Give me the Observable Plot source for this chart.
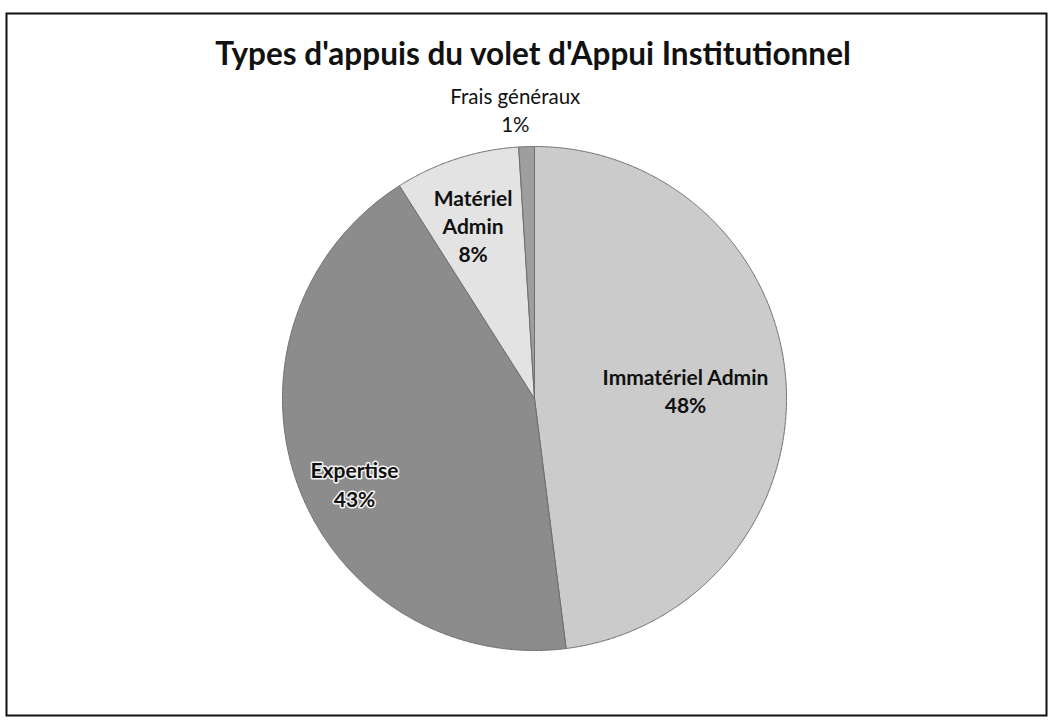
<!DOCTYPE html>
<html><head><meta charset="utf-8">
<script src="https://cdn.jsdelivr.net/npm/d3@7"></script>
<script src="https://cdn.jsdelivr.net/npm/@observablehq/plot@0.6"></script>
<style>body{margin:0;background:#fff}</style>
</head><body><div id="chart"></div>
<script>
const categories = ["Immatériel Admin", "Expertise", "Matériel Admin", "Frais généraux"];
const labelNames = ["Immatériel Admin", "Expertise", "Matériel\nAdmin", "Frais généraux"];
const values = [48, 43, 8, 1];
const colors = ["#cbcbcb", "#8c8c8c", "#e3e3e3", "#9e9e9e"];
const title = "Types d'appuis du volet d'Appui Institutionnel";

// layout: label distance from centre (fraction of radius) and angular shift (degrees)
const labelLayout = {
  "Immatériel Admin": {r: 0.60, shift: 0.5},
  "Expertise": {r: 0.79, shift: -5.5},
  "Matériel Admin": {r: 0.73, shift: -1.5},
  "Frais généraux": {r: 1.15, shift: -2}
};

const arcs = d3.pie().sort(null).value(d => d)(values);
const slicePts = [];
arcs.forEach((p, i) => {
  const n = Math.max(2, Math.ceil((p.endAngle - p.startAngle) / 0.005));
  slicePts.push({cat: categories[i], x: 0, y: 0});
  for (let k = 0; k <= n; k++) {
    const a = p.startAngle + (p.endAngle - p.startAngle) * k / n;
    slicePts.push({cat: categories[i], x: Math.sin(a), y: Math.cos(a)});
  }
  slicePts.push({cat: categories[i], x: 0, y: 0});
});
const labels = arcs.map((p, i) => {
  const L = labelLayout[categories[i]];
  const a = (p.startAngle + p.endAngle) / 2 + L.shift * Math.PI / 180;
  return {cat: categories[i], text: labelNames[i] + "\n" + values[i] + "%", x: L.r * Math.sin(a), y: L.r * Math.cos(a), outside: L.r > 1};
});

const chart = Plot.plot({
  width: 1049, height: 720, margin: 0,
  style: {fontFamily: "Lato, sans-serif", background: "#fff"},
  x: {domain: [-1, 1], range: [282, 786], axis: null},
  y: {domain: [-1, 1], range: [650, 146], axis: null},
  color: {domain: categories, range: colors},
  marks: [
    Plot.frame({stroke: "#111", strokeWidth: 2, insetLeft: 6, insetTop: 13, insetRight: 3, insetBottom: 5}),
    Plot.line(slicePts, {x: "x", y: "y", z: "cat", fill: "cat", stroke: "#6e6e6e", strokeWidth: 1, curve: "linear"}),
    Plot.text(labels.filter(d => !d.outside && d.cat !== "Expertise"), {x: "x", y: "y", text: "text", fontSize: 21, fontWeight: "bold", lineHeight: 1.33, fill: "#111"}),
    Plot.text(labels.filter(d => d.cat === "Expertise"), {x: "x", y: "y", text: "text", fontSize: 21, fontWeight: "bold", lineHeight: 1.38, fill: "#111", stroke: "#f4f4f4", strokeWidth: 3}),
    Plot.text(labels.filter(d => d.outside), {x: "x", y: "y", text: "text", fontSize: 20.5, lineHeight: 1.37, fill: "#111"}),
    Plot.text([title], {frameAnchor: "top", dx: 8, dy: 54, lineAnchor: "middle", fontSize: 31.5, fontWeight: "bold", fill: "#111"})
  ]
});
document.getElementById("chart").append(chart);
</script>
</body></html>
